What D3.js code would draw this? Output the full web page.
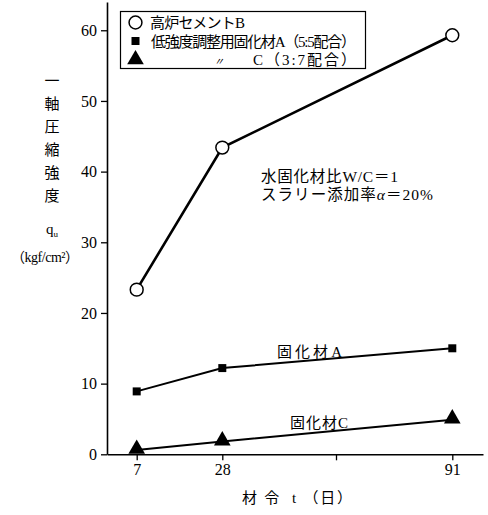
<!DOCTYPE html>
<html>
<head>
<meta charset="utf-8">
<script src="https://cdn.jsdelivr.net/npm/d3@7"></script>
<style>
  html, body { margin: 0; padding: 0; background: #fff; }
  svg text { font-family: "Liberation Serif", "Noto Sans CJK JP", serif; fill: #000; }
</style>
</head>
<body>
<svg id="chart" width="488" height="515"></svg>
<script>
// Curing age (days) and unconfined compressive strength q_u (kgf/cm²)
const days = [7, 28, 91];
const strengthB = [23.3, 43.4, 59.3];   // 高炉セメントB
const strengthA = [8.9, 12.2, 15.0];    // 固化材A (5:5)
const strengthC = [0.6, 1.8, 4.9];      // 固化材C (3:7)
const yTicks = [0, 10, 20, 30, 40, 50, 60];
const xTickLabels = [7, 28, 91];
const xMinorTicks = [60];

const svg = d3.select("#chart");

// Age axis is drawn with uneven spacing, so use a piecewise-linear scale
const x = d3.scaleLinear()
  .domain([0, 7, 28, 60, 91, 100])
  .range([107, 136.7, 222.3, 336, 452.3, 483]);
const y = d3.scaleLinear().domain([0, 64]).range([454.3, 2]);

const axisG = svg.append("g");

// y axis
const yAxis = axisG.append("g")
  .attr("transform", `translate(${x(0)},0)`)
  .call(d3.axisLeft(y).tickValues(yTicks).tickSize(6).tickPadding(4).tickSizeOuter(0));
yAxis.select(".domain").attr("stroke", "#000").attr("stroke-width", 1.6);
yAxis.selectAll(".tick line").attr("stroke-width", 1.3);
yAxis.selectAll(".tick text")
  .style("font-size", "16px")
  .style("font-family", "'Liberation Serif', serif");

// x axis
const xAxis = axisG.append("g")
  .attr("transform", `translate(0,${y(0)})`)
  .call(d3.axisBottom(x).tickValues(xTickLabels.concat(xMinorTicks))
    .tickFormat(d => xTickLabels.includes(d) ? d : "")
    .tickSize(6).tickPadding(3).tickSizeOuter(0));
xAxis.select(".domain").attr("stroke", "#000").attr("stroke-width", 1.6);
xAxis.selectAll(".tick line").attr("stroke-width", 1.3);
xAxis.selectAll(".tick text")
  .style("font-size", "16px")
  .style("font-family", "'Liberation Serif', serif");

// series lines
const line = d3.line().x(d => x(d[0])).y(d => y(d[1]));
const series = [
  { vals: strengthB, width: 2.6, marker: "circle" },
  { vals: strengthA, width: 2.0, marker: "square" },
  { vals: strengthC, width: 2.0, marker: "triangle" }
];

const symbolOf = {
  circle: d3.symbol().type(d3.symbolCircle).size(130),
  square: d3.symbol().type(d3.symbolSquare).size(64),
  triangle: d3.symbol().type(d3.symbolTriangle).size(120)
};

function drawMarker(g, kind, cx, cy) {
  const p = g.append("path")
    .attr("d", symbolOf[kind]())
    .attr("transform", `translate(${cx},${cy})`);
  if (kind === "circle") {
    p.attr("fill", "#fff").attr("stroke", "#000").attr("stroke-width", 1.5);
  } else {
    p.attr("fill", "#000");
  }
}

series.forEach(s => {
  const pts = days.map((d, i) => [d, s.vals[i]]);
  svg.append("path")
    .datum(pts)
    .attr("d", line)
    .attr("fill", "none")
    .attr("stroke", "#000")
    .attr("stroke-width", s.width);
  const g = svg.append("g");
  pts.forEach(p => drawMarker(g, s.marker, x(p[0]), y(p[1]) + (s.marker === "triangle" ? -1 : 0)));
});

// stretch a text element to a given width
function fit(t, len) {
  return t.attr("textLength", len).attr("lengthAdjust", "spacing");
}

// legend
const lg = svg.append("g");
lg.append("rect")
  .attr("x", 120.5).attr("y", 11.5).attr("width", 245).attr("height", 57)
  .attr("fill", "#fff").attr("stroke", "#000").attr("stroke-width", 1.2);
const legendRows = [
  { marker: "circle", label: "高炉セメントB", x: 150, len: 95 },
  { marker: "square", label: "低強度調整用固化材A（5:5配合）", x: 151, len: 205 },
  { marker: "triangle", label: "C（3:7配合）", x: 253, len: 103 }
];
legendRows.forEach((r, i) => {
  const cy = 22.5 + i * 18.5;
  drawMarker(lg, r.marker, 135.5, cy);
  const t = lg.append("text")
    .attr("x", r.x)
    .attr("y", cy + 5.5)
    .style("font-size", "15px")
    .text(r.label);
  fit(t, r.len);
  if (i === 2) {
    lg.append("text").attr("x", 214).attr("y", cy + 5)
      .style("font-size", "10px").style("font-style", "italic").text("〃");
  }
});

// annotations
const note = svg.append("g").style("font-size", "15.5px");
fit(note.append("text").attr("x", 261).attr("y", 182).text("水固化材比W/C＝1"), 137);
const l2 = note.append("text").attr("x", 261).attr("y", 200);
l2.append("tspan").text("スラリー添加率");
l2.append("tspan").style("font-style", "italic").text("α");
l2.append("tspan").text("＝20%");
fit(l2, 172);

fit(svg.append("text").attr("x", 277).attr("y", 357).style("font-size", "15px").text("固化材A"), 65);
fit(svg.append("text").attr("x", 290).attr("y", 428).style("font-size", "15px").text("固化材C"), 58);

// y-axis title, written vertically
const yTitle = ["一", "軸", "圧", "縮", "強", "度"];
yTitle.forEach((c, i) => {
  svg.append("text").attr("x", 52).attr("y", 86 + i * 23)
    .attr("text-anchor", "middle").style("font-size", "15px").text(c);
});
const qu = svg.append("text").attr("x", 52).attr("y", 234)
  .attr("text-anchor", "middle").style("font-size", "15px");
qu.append("tspan").text("q");
qu.append("tspan").attr("dy", 3).style("font-size", "9px").text("u");
fit(svg.append("text").attr("x", 11).attr("y", 262)
  .style("font-size", "14px").text("（kgf/cm²）"), 68);

// x-axis title
fit(svg.append("text").attr("x", 242).attr("y", 503)
  .style("font-size", "15px")
  .attr("xml:space", "preserve")
  .text("材 令  t （日）"), 110);
</script>
</body>
</html>
